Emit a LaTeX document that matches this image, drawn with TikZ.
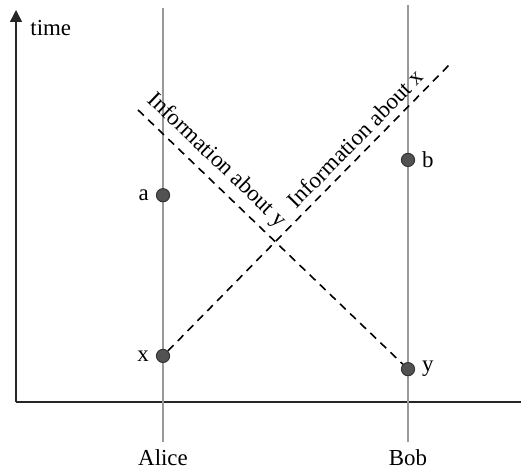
\documentclass[tikz,border=0pt]{standalone}
\usepackage{fontspec}
\setmainfont{Liberation Serif}
\usetikzlibrary{arrows.meta}

\tikzset{
    worldline/.style={draw=black!40, line width=1bp},
    event/.style={circle, draw=black!80, fill=black!68, line width=0.5bp, minimum size=6.6bp, inner sep=0pt},
    info/.style={draw=black, line width=0.8bp, dash pattern=on 4bp off 3bp},
}

\begin{document}
\begin{tikzpicture}[x=24.5bp, y=24.5bp, >={Triangle[length=6bp,width=6bp]}, font=\fontsize{11.5}{13.5}\selectfont]
    \useasboundingbox (-0.327,-1.429) rectangle (10.306,8.204);

    % --- EJES ---
    \coordinate (O) at (0,0);
    \coordinate (Ttop) at (0,8.0);
    \coordinate (Xend) at (10.31,0);
    \draw[->, line width=0.8bp, black!85] (O) -- (Ttop);
    \draw[line width=0.8bp, black!85] (O) -- (Xend);
    \node[anchor=west] (time) at (0.15,7.63) {time};

    % --- LINEAS DE UNIVERSO ---
    \coordinate (Abot) at (3,-0.82);
    \coordinate (Atop) at (3,8.04);
    \coordinate (Bbot) at (8,-0.82);
    \coordinate (Btop) at (8,8.1);
    \draw[worldline] (Abot) -- (Atop);
    \draw[worldline] (Bbot) -- (Btop);
    \node[below] (alice) at (Abot) {Alice};
    \node[below] (bob) at (Bbot) {Bob};

    % --- EVENTOS ---
    \node[event, label=left:{a}]  (a) at (3,4.22) {};
    \node[event, label=left:{x}]  (x) at (3,0.94) {};
    \node[event, label=right:{b}] (b) at (8,4.94) {};
    \node[event, label=right:{y}] (y) at (8,0.67) {};

    % --- SENALES ---
    \coordinate (Xinfo) at (8.88,6.92);
    \coordinate (Yinfo) at (2.49,5.96);
    \draw[info] (x) -- (Xinfo) node[pos=0.70, sloped, above] {Information about x};
    \draw[info] (Yinfo) -- (y) node[pos=0.25, sloped, above] {Information about y};

\end{tikzpicture}
\end{document}
